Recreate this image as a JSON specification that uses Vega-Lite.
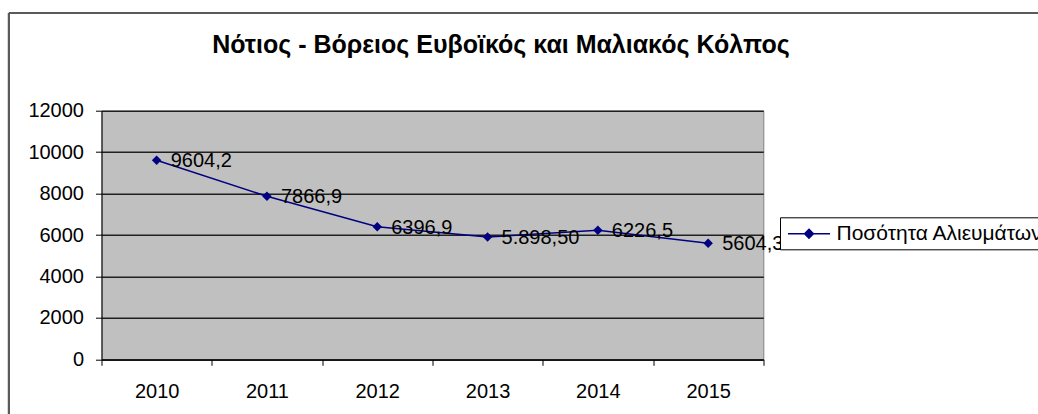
{
  "$schema": "https://vega.github.io/schema/vega-lite/v6.json",
  "width": 661.8,
  "height": 248.6,
  "autosize": {"type": "none"},
  "padding": {"left": 101.5, "top": 110.7, "right": 274.7, "bottom": 54.7},
  "background": "white",
  "config": {
    "view": {"fill": "#c0c0c0", "stroke": "#808080", "strokeWidth": 1},
    "font": "Liberation Sans"
  },
  "title": {
    "text": "Νότιος - Βόρειος Ευβοϊκός και Μαλιακός Κόλπος",
    "font": "Liberation Sans",
    "fontSize": 25,
    "fontWeight": "bold",
    "color": "#000000",
    "anchor": "middle",
    "dx": 68.6,
    "offset": -46
  },
  "datasets": {
    "catch": [
      {"year": 2010, "value": 9604.2, "label": "9604,2"},
      {"year": 2011, "value": 7866.9, "label": "7866,9"},
      {"year": 2012, "value": 6396.9, "label": "6396,9"},
      {"year": 2013, "value": 5898.5, "label": "5.898,50"},
      {"year": 2014, "value": 6226.5, "label": "6226,5"},
      {"year": 2015, "value": 5604.3, "label": "5604,3"}
    ]
  },
  "data": {"name": "catch"},
  "layer": [
    {
      "mark": {"type": "line", "color": "#000080", "strokeWidth": 1.5},
      "encoding": {
        "x": {
          "field": "year",
          "type": "quantitative",
          "title": null,
          "scale": {"domain": [2009.5, 2015.5], "nice": false, "zero": false},
          "axis": {
            "values": [2009.5, 2010.5, 2011.5, 2012.5, 2013.5, 2014.5, 2015.5],
            "labelExpr": "datum.value < 2015 ? format(datum.value + 0.5, 'd') : ''",
            "labelOffset": 55.15,
            "labelFlush": false,
            "labelBound": false,
            "labelOverlap": false,
            "grid": false,
            "domain": true,
            "domainColor": "#000000",
            "domainWidth": 1,
            "ticks": true,
            "tickSize": 6,
            "tickColor": "#000000",
            "tickWidth": 1,
            "labelFont": "Liberation Sans",
            "labelFontSize": 20,
            "labelColor": "#000000",
            "labelPadding": 16
          }
        },
        "y": {
          "field": "value",
          "type": "quantitative",
          "title": null,
          "scale": {"domain": [0, 12000], "nice": false, "zero": false},
          "axis": {
            "values": [0, 2000, 4000, 6000, 8000, 10000, 12000],
            "format": "d",
            "grid": true,
            "gridColor": "#202020",
            "gridWidth": 1.5,
            "domain": true,
            "domainColor": "#000000",
            "domainWidth": 1,
            "ticks": true,
            "tickSize": 6,
            "tickColor": "#000000",
            "labelFont": "Liberation Sans",
            "labelFontSize": 20,
            "labelColor": "#000000",
            "labelPadding": 12
          }
        },
        "color": {
          "datum": "Ποσότητα Αλιευμάτων",
          "type": "nominal",
          "scale": {"range": ["#000080"]},
          "legend": {
            "orient": "none",
            "legendX": 678.5,
            "legendY": 106.6,
            "title": null,
            "padding": 5,
            "strokeColor": "#000000",
            "fillColor": "#ffffff",
            "labelFont": "Liberation Sans",
            "labelFontSize": 21,
            "labelColor": "#000000",
            "labelLimit": 0,
            "symbolType": "M-2,0H2M0,-0.42L0.42,0L0,0.42L-0.42,0Z",
            "symbolSize": 441,
            "symbolStrokeWidth": 1.5,
            "symbolFillColor": "#000080",
            "symbolStrokeColor": "#000080",
            "symbolOffset": 12.5,
            "labelOffset": 16
          }
        }
      }
    },
    {
      "mark": {"type": "point", "shape": "diamond", "filled": true, "color": "#000080", "size": 90, "opacity": 1},
      "encoding": {
        "x": {"field": "year", "type": "quantitative", "title": null},
        "y": {"field": "value", "type": "quantitative", "title": null}
      }
    },
    {
      "mark": {"type": "text", "align": "left", "baseline": "middle", "dx": 14, "dy": 1, "fontSize": 20, "font": "Liberation Sans", "color": "#000000"},
      "encoding": {
        "x": {"field": "year", "type": "quantitative", "title": null},
        "y": {"field": "value", "type": "quantitative", "title": null},
        "text": {"field": "label", "type": "nominal"}
      }
    },
    {
      "mark": {"type": "rule", "color": "#5a5a5a", "strokeWidth": 2},
      "encoding": {
        "x": {"datum": 2008.661, "type": "quantitative", "title": null},
        "y": {"datum": -3000, "type": "quantitative", "title": null},
        "y2": {"datum": 16716}
      }
    },
    {
      "mark": {"type": "rule", "color": "#5a5a5a", "strokeWidth": 2},
      "encoding": {
        "x": {"datum": 2008.661, "type": "quantitative", "title": null},
        "x2": {"datum": 2020},
        "y": {"datum": 16716, "type": "quantitative", "title": null}
      }
    }
  ]
}
